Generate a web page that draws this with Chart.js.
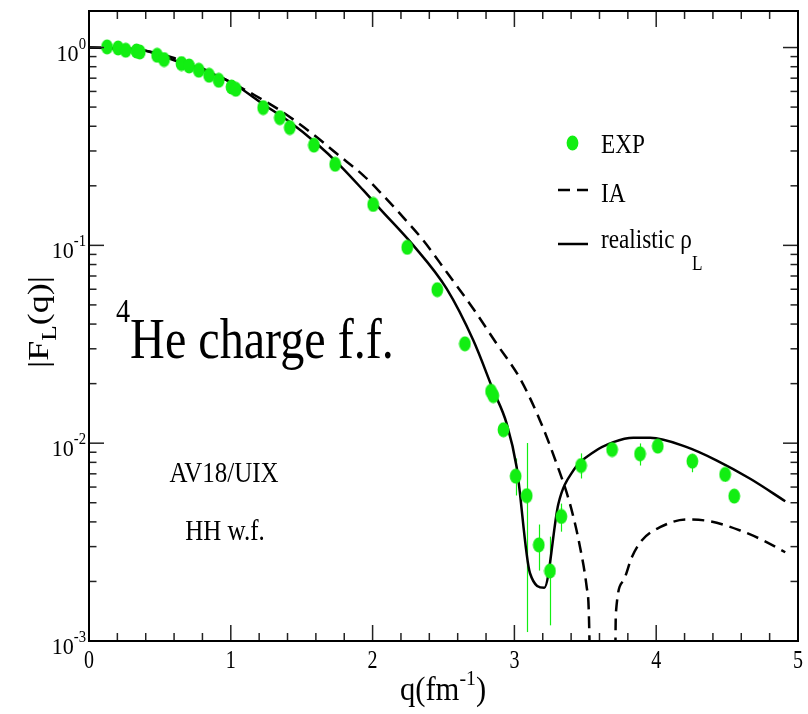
<!DOCTYPE html>
<html><head><meta charset="utf-8">
<style>html,body{margin:0;padding:0;background:#fff}canvas{display:block}</style>
<script src="https://cdn.jsdelivr.net/npm/chart.js@4.4.1/dist/chart.umd.min.js"></script>
</head><body>
<canvas id="c" width="808" height="714"></canvas>
<script>
// ---- data ----
const expQ = [0.127,0.205,0.259,0.335,0.358,0.480,0.529,0.652,0.706,0.774,0.847,0.915,1.005,1.035,1.228,1.346,1.416,1.586,1.736,2.004,2.244,2.456,2.651,2.835,2.851,2.923,3.009,3.087,3.172,3.251,3.331,3.470,3.689,3.886,4.011,4.255,4.486,4.550];
const expF = [1.007,0.995,0.969,0.961,0.950,0.914,0.870,0.830,0.807,0.768,0.724,0.683,0.632,0.615,0.497,0.442,0.394,0.321,0.257,0.161,0.0977,0.0597,0.0318,0.0183,0.0174,0.0117,0.00681,0.00543,0.00306,0.00226,0.00426,0.00771,0.00929,0.00884,0.00966,0.00811,0.00695,0.00540];
const expLo = [null,null,null,null,null,null,null,null,null,null,null,null,null,null,null,null,null,null,null,null,null,null,null,null,null,null,0.00544,0.00111,0.00227,0.00120,0.00357,0.00663,0.00880,0.00771,0.00930,0.00713,0.00640,0.00500];
const expHi = [null,null,null,null,null,null,null,null,null,null,null,null,null,null,null,null,null,null,null,null,null,null,null,null,null,null,0.00837,0.01002,0.00388,0.00337,0.00495,0.00888,0.00990,0.00997,0.01010,0.00880,0.00740,0.00570];
const iaQ = [0,0.2,0.4,0.6,0.8,1.0,1.169,1.346,1.464,1.605,1.746,1.934,2.052,2.193,2.357,2.522,2.710,2.875,3.040,3.181,3.298,3.392,3.463,3.510,3.529,3.534,3.62,3.71,3.713,3.717,3.769,3.828,3.898,4.027,4.216,4.380,4.592,4.757,4.910];
const iaF = [1.0,0.992,0.962,0.885,0.785,0.668,0.574,0.482,0.421,0.353,0.291,0.226,0.186,0.1446,0.106,0.0733,0.0478,0.0318,0.0212,0.0130,0.00787,0.00493,0.00298,0.00187,0.00104,0.0003,null,0.0003,0.00104,0.00142,0.00202,0.00265,0.00322,0.00376,0.00411,0.00403,0.00362,0.00322,0.00281];
const realQ = [0,0.2,0.358,0.6,0.781,1.016,1.228,1.416,1.605,1.769,1.934,2.052,2.287,2.522,2.710,2.851,2.946,3.016,3.110,3.211,3.310,3.416,3.557,3.698,3.839,3.957,4.216,4.428,4.663,4.910];
const realF = [1.0,0.99,0.977,0.863,0.783,0.658,0.517,0.420,0.327,0.254,0.190,0.153,0.100,0.0604,0.0331,0.0185,0.01253,0.00756,0.00220,0.00186,0.00493,0.00728,0.00900,0.01012,0.01065,0.01065,0.00955,0.00817,0.00661,0.00509];
const xTicks = [0,1,2,3,4,5];
const xMinor = [0.2,0.4,0.6,0.8,1.2,1.4,1.6,1.8,2.2,2.4,2.6,2.8,3.2,3.4,3.6,3.8,4.2,4.4,4.6,4.8];
const yTicks = [1,0.1,0.01,0.001];
const yTickExp = ['0','-1','-2','-3'];
const yMinorMult = [2,3,4,5,6,7,8,9];

const GREEN = '#12ee12';
const FONT = '"Liberation Serif","Times New Roman",serif';

// ellipse marker
const dot = document.createElement('canvas');
dot.width = 13; dot.height = 16;
(function(){const g=dot.getContext('2d');g.fillStyle=GREEN;g.beginPath();g.ellipse(6.5,8,5.9,7.4,0,0,Math.PI*2);g.fill();})();

function rich(ctx, parts, x, y, align, sx) {
  sx = sx || 1;
  let w = 0;
  for (const p of parts) { ctx.font = p.s + 'px ' + FONT; w += ctx.measureText(p.t).width * sx; }
  let cx = align === 'center' ? x - w/2 : (align === 'right' ? x - w : x);
  ctx.textAlign = 'left'; ctx.textBaseline = 'alphabetic'; ctx.fillStyle = '#000';
  for (const p of parts) {
    ctx.font = p.s + 'px ' + FONT;
    const pw = ctx.measureText(p.t).width;
    ctx.save(); ctx.translate(cx, y + (p.dy||0)); ctx.scale(sx, 1); ctx.fillText(p.t, 0, 0); ctx.restore();
    cx += pw * sx;
  }
}

const deco = {
  id: 'deco',
  beforeDatasetsDraw(chart) {
    const ctx = chart.ctx, xs = chart.scales.x, ys = chart.scales.y;
    ctx.save();
    ctx.strokeStyle = GREEN; ctx.lineWidth = 1.2;
    for (let i = 0; i < expQ.length; i++) {
      if (expLo[i] == null) continue;
      const px = Math.round(xs.getPixelForValue(expQ[i])) + 0.5;
      ctx.beginPath();
      ctx.moveTo(px, ys.getPixelForValue(expLo[i]));
      ctx.lineTo(px, ys.getPixelForValue(expHi[i]));
      ctx.stroke();
    }
    ctx.restore();
  },
  afterDraw(chart) {
    const ctx = chart.ctx, xs = chart.scales.x, ys = chart.scales.y, a = chart.chartArea;
    ctx.save();
    // ticks
    ctx.strokeStyle = '#222'; ctx.lineWidth = 1.5;
    const L = (x1,y1,x2,y2)=>{ctx.beginPath();ctx.moveTo(x1,y1);ctx.lineTo(x2,y2);ctx.stroke();};
    for (const v of xTicks) { const p = xs.getPixelForValue(v); L(p,a.bottom,p,a.bottom-16); L(p,a.top,p,a.top+16); }
    for (const v of xMinor) { const p = xs.getPixelForValue(v); L(p,a.bottom,p,a.bottom-8); L(p,a.top,p,a.top+8); }
    for (const v of yTicks) { const p = ys.getPixelForValue(v); L(a.left,p,a.left+15,p); L(a.right,p,a.right-15,p); }
    for (const d of yTicks) for (const m of yMinorMult) {
      const v = d*m; if (v > ys.max) continue;
      const p = ys.getPixelForValue(v); L(a.left,p,a.left+7.5,p); L(a.right,p,a.right-7.5,p);
    }
    // frame
    ctx.strokeStyle = '#000'; ctx.lineWidth = 2;
    ctx.strokeRect(a.left, a.top, a.right-a.left, a.bottom-a.top);
    // tick labels
    for (const v of xTicks) rich(ctx, [{t:String(v), s:25}], xs.getPixelForValue(v), a.bottom+27, 'center', 0.8);
    yTicks.forEach((v,i)=>{
      rich(ctx, [{t:'10', s:24},{t:yTickExp[i], s:16, dy:-12}], 86, ys.getPixelForValue(v)+13, 'right', 0.92);
    });
    // axis titles
    rich(ctx, [{t:'q(fm', s:34},{t:'-1', s:22, dy:-15},{t:')', s:34}], 443, 700, 'center', 0.9);
    ctx.save(); ctx.translate(48, 322); ctx.rotate(-Math.PI/2);
    rich(ctx, [{t:'|F', s:30},{t:'L', s:21, dy:8},{t:'(q)|', s:30}], 0, 0, 'center', 1.2);
    ctx.restore();
    // annotations
    rich(ctx, [{t:'4', s:34, dy:-36},{t:'He charge f.f.', s:58}], 116, 358, 'left', 0.83);
    rich(ctx, [{t:'AV18/UIX', s:29}], 224, 482, 'center', 0.86);
    rich(ctx, [{t:'HH w.f.', s:29}], 225, 540, 'center', 0.86);
    // legend
    ctx.drawImage(dot, 566, 135);
    rich(ctx, [{t:'EXP', s:27}], 601, 153, 'left', 0.86);
    ctx.strokeStyle = '#000'; ctx.lineWidth = 2.5;
    ctx.setLineDash([12,7]); L(558,190,588,190);
    ctx.setLineDash([]); L(558,244,588,244);
    rich(ctx, [{t:'IA', s:27}], 601, 202, 'left', 0.86);
    rich(ctx, [{t:'realistic ρ', s:27},{t:'L', s:20, dy:22}], 601, 248, 'left', 0.86);
    ctx.restore();
  }
};

const pts = (xa, ya) => xa.map((x,i)=>({x:x, y:ya[i]}));

new Chart(document.getElementById('c'), {
  type: 'scatter',
  data: { datasets: [
    { label:'EXP', data: pts(expQ, expF), showLine:false, pointStyle: dot, pointRadius: 7, pointHoverRadius: 7 },
    { label:'IA', data: pts(iaQ, iaF), showLine:true, spanGaps:false, borderColor:'#000', borderWidth:2.5, borderDash:[12,7], pointRadius:0, cubicInterpolationMode:'monotone', fill:false },
    { label:'realistic ρL', data: pts(realQ, realF), showLine:true, borderColor:'#000', borderWidth:2.5, pointRadius:0, cubicInterpolationMode:'monotone', fill:false }
  ]},
  options: {
    responsive:false, animation:false, devicePixelRatio:1,
    layout: { padding: { left:89, right:10, top:11, bottom:73 } },
    scales: {
      x: { type:'linear', min:0, max:5, display:false },
      y: { type:'logarithmic', min:0.001, max:1.53, display:false }
    },
    plugins: { legend:{display:false}, tooltip:{enabled:false} }
  },
  plugins: [deco]
});
</script>
</body></html>
